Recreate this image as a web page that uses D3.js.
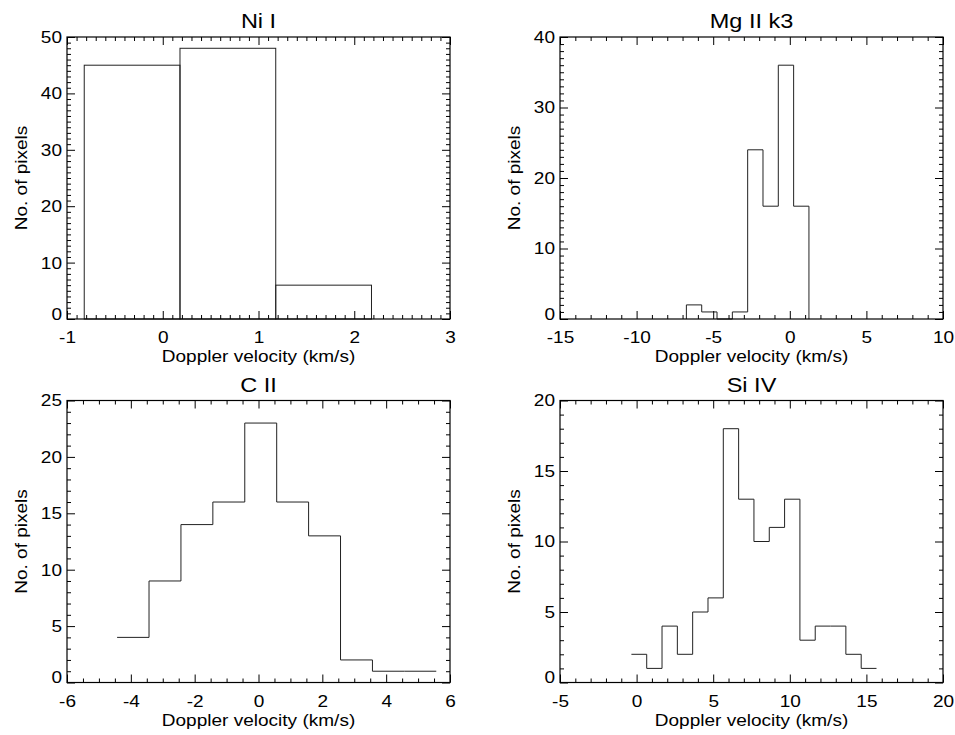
<!DOCTYPE html>
<html>
<head>
<meta charset="utf-8">
<script src="https://cdn.jsdelivr.net/npm/d3@7"></script>
<style>
  body { margin: 0; background: #fff; }
  svg text { font-family: "Liberation Sans", Arial, Helvetica, sans-serif; fill: #000; }
  .tick text { font-size: 17px; }
  .title { font-size: 21px; }
  .axis-title { font-size: 17px; }
</style>
</head>
<body>
<div id="chart"></div>
<script>
// bin lower edges (km/s) and counts
const niLeft = [-0.82, 0.18, 1.18];
const niCount = [45, 48, 6];

const mgLeft = [-6.75, -5.75, -4.75, -3.75, -2.75, -1.75, -0.75, 0.25];
const mgCount = [2, 1, 0, 1, 24, 16, 36, 16];

const ciiLeft = [-4.43, -3.43, -2.43, -1.43, -0.43, 0.57, 1.57, 2.57, 3.57, 4.57];
const ciiCount = [4, 9, 14, 16, 23, 16, 13, 2, 1, 1];

const siLeft = [-0.34, 0.66, 1.66, 2.66, 3.66, 4.66, 5.66, 6.66, 7.66, 8.66, 9.66, 10.66, 11.66, 12.66, 13.66, 14.66];
const siCount = [2, 1, 4, 2, 5, 6, 18, 13, 10, 11, 13, 3, 4, 4, 2, 1];

const binWidth = 1;

// tick labels
const niXTicks = [-1, 0, 1, 2, 3];
const niYTicks = [0, 10, 20, 30, 40, 50];
const mgXTicks = [-15, -10, -5, 0, 5, 10];
const mgYTicks = [0, 10, 20, 30, 40];
const ciiXTicks = [-6, -4, -2, 0, 2, 4, 6];
const ciiYTicks = [0, 5, 10, 15, 20, 25];
const siXTicks = [-5, 0, 5, 10, 15, 20];
const siYTicks = [0, 5, 10, 15, 20];

const width = 955;
const height = 735;
const pw = 383;
const ph = 282;
const stretch = "scale(1.12,1)"; // the lettering in the picture is a bit wide

const panels = [
  { title: "Ni I", left: niLeft, count: niCount, xt: niXTicks, yt: niYTicks, xm: 10, ym: 10, x0: 67, y0: 37, kind: "bars" },
  { title: "Mg II k3", left: mgLeft, count: mgCount, xt: mgXTicks, yt: mgYTicks, xm: 5, ym: 10, x0: 560, y0: 37, kind: "closed" },
  { title: "C II", left: ciiLeft, count: ciiCount, xt: ciiXTicks, yt: ciiYTicks, xm: 4, ym: 5, x0: 67, y0: 400.5, kind: "step" },
  { title: "Si IV", left: siLeft, count: siCount, xt: siXTicks, yt: siYTicks, xm: 5, ym: 5, x0: 560, y0: 400.5, kind: "step" }
];

const svg = d3.select("#chart")
  .append("svg")
    .attr("width", width)
    .attr("height", height);

function minorTicks(major, n) {
  const out = [];
  for (let i = 0; i < major.length - 1; i++) {
    const step = (major[i + 1] - major[i]) / n;
    for (let k = 1; k < n; k++) out.push(major[i] + k * step);
  }
  return out;
}

panels.forEach((p) => {
  const g = svg.append("g").attr("transform", `translate(${p.x0},${p.y0})`);

  const x = d3.scaleLinear()
    .domain(d3.extent(p.xt))
    .range([0, pw]);
  const y = d3.scaleLinear()
    .domain(d3.extent(p.yt))
    .range([ph, 0]);

  const bins = p.left.map((l, i) => ({ x: l, y: p.count[i] }));
  const hist = g.append("g");

  if (p.kind === "bars") {
    hist.selectAll("rect")
      .data(bins)
      .join("rect")
        .attr("x", (d) => x(d.x))
        .attr("y", (d) => y(d.y))
        .attr("width", (d) => x(d.x + binWidth) - x(d.x))
        .attr("height", (d) => y(0) - y(d.y))
        .style("fill", "none")
        .style("stroke", "#222")
        .style("stroke-width", 1);
  } else {
    const last = bins[bins.length - 1];
    let pts = bins.concat([{ x: last.x + binWidth, y: last.y }]);
    if (p.kind === "closed") {
      pts = [{ x: bins[0].x, y: 0 }].concat(pts, [{ x: last.x + binWidth, y: 0 }]);
    }
    const line = d3.line()
      .x((d) => x(d.x))
      .y((d) => y(d.y))
      .curve(d3.curveStepAfter);
    hist.append("path")
      .datum(pts)
      .attr("d", line)
      .style("fill", "none")
      .style("stroke", "#222")
      .style("stroke-width", 1);
  }

  // axes: major ticks with labels, minor ticks, mirrored on top/right
  const fmt = (d) => String(d);
  const xMinor = minorTicks(p.xt, p.xm);
  const yMinor = minorTicks(p.yt, p.ym);

  const bottom = g.append("g").attr("transform", `translate(0,${ph})`);
  bottom.call(d3.axisBottom(x).tickValues(p.xt).tickFormat(fmt).tickSizeInner(-8).tickSizeOuter(0).tickPadding(12));
  bottom.append("g").call(d3.axisBottom(x).tickValues(xMinor).tickFormat("").tickSizeInner(-4).tickSizeOuter(0));

  const top = g.append("g");
  top.call(d3.axisTop(x).tickValues(p.xt).tickFormat("").tickSizeInner(-8).tickSizeOuter(0));
  top.append("g").call(d3.axisTop(x).tickValues(xMinor).tickFormat("").tickSizeInner(-4).tickSizeOuter(0));

  const leftAx = g.append("g");
  leftAx.call(d3.axisLeft(y).tickValues(p.yt).tickFormat(fmt).tickSizeInner(-8).tickSizeOuter(0).tickPadding(4.5));
  leftAx.append("g").call(d3.axisLeft(y).tickValues(yMinor).tickFormat("").tickSizeInner(-4).tickSizeOuter(0));
  // lowest label sits a little above its tick
  leftAx.selectAll(".tick text").filter((d) => d === p.yt[0]).attr("dy", "0.02em");

  const rightAx = g.append("g").attr("transform", `translate(${pw},0)`);
  rightAx.call(d3.axisRight(y).tickValues(p.yt).tickFormat("").tickSizeInner(-8).tickSizeOuter(0));
  rightAx.append("g").call(d3.axisRight(y).tickValues(yMinor).tickFormat("").tickSizeInner(-4).tickSizeOuter(0));

  g.selectAll(".domain").remove();
  g.selectAll(".tick line").style("stroke", "#000");
  g.selectAll(".tick text").attr("transform", stretch);

  g.append("rect")
    .attr("width", pw)
    .attr("height", ph)
    .style("fill", "none")
    .style("stroke", "#000")
    .style("stroke-width", 1.2);

  g.append("text")
    .attr("class", "title")
    .attr("transform", `translate(${pw / 2},-9) ${stretch}`)
    .attr("text-anchor", "middle")
    .text(p.title);

  g.append("text")
    .attr("class", "axis-title")
    .attr("transform", `translate(${pw / 2},${ph + 43}) ${stretch}`)
    .attr("text-anchor", "middle")
    .text("Doppler velocity (km/s)");

  g.append("text")
    .attr("class", "axis-title")
    .attr("transform", `translate(-40,${ph / 2}) rotate(-90) ${stretch}`)
    .attr("text-anchor", "middle")
    .text("No. of pixels");
});
</script>
</body>
</html>
